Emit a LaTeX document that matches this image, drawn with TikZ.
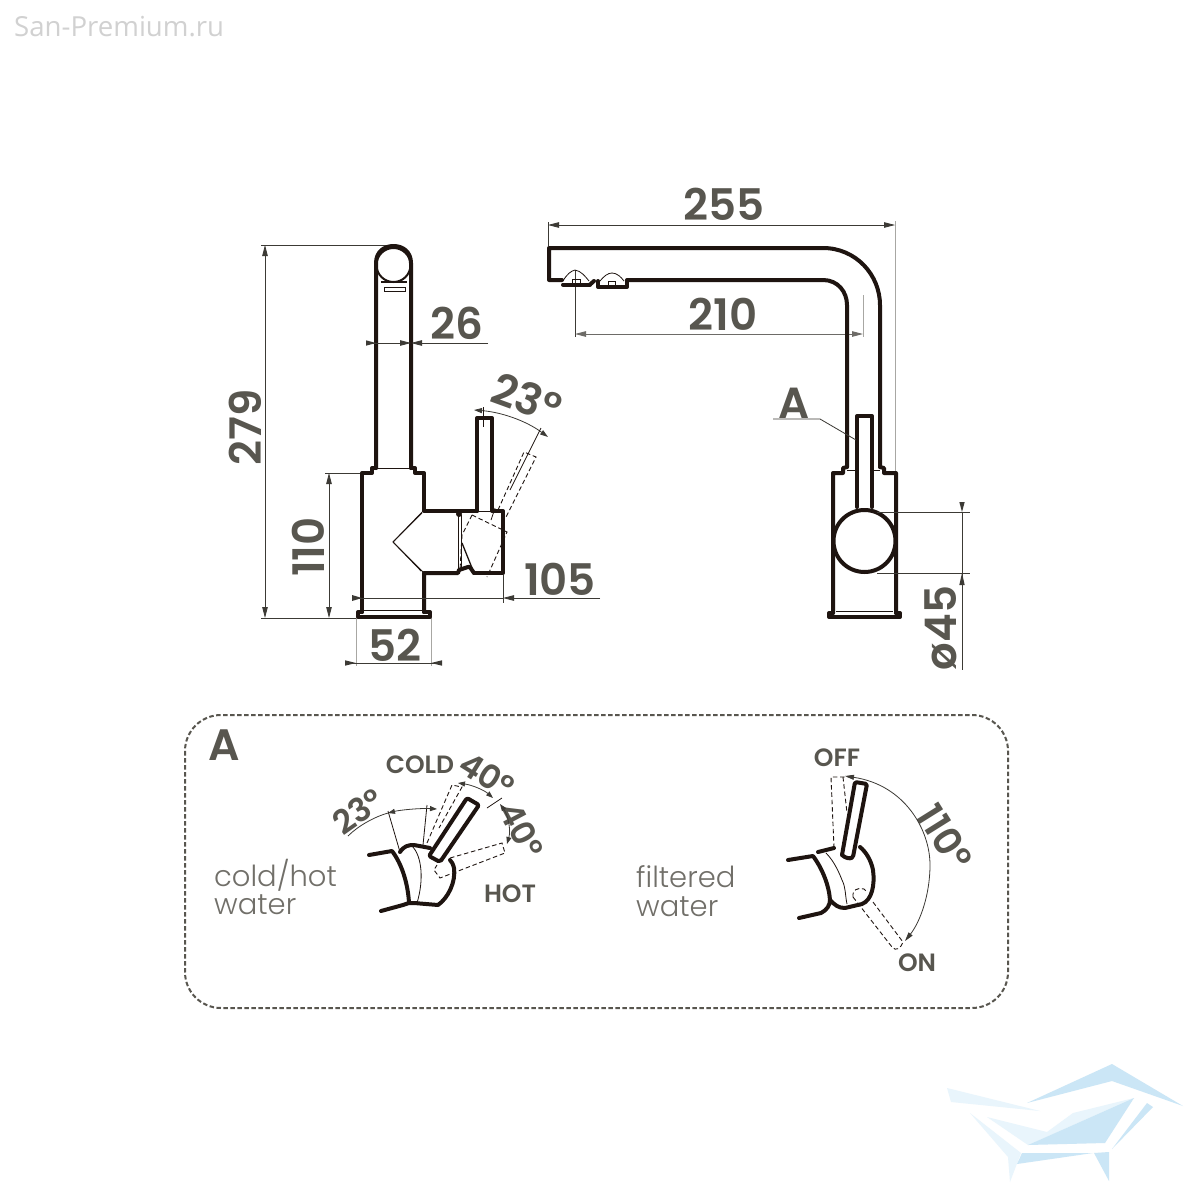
\documentclass[tikz,border=0pt]{standalone}
\usepackage{fontspec}
\setmainfont{Poppins}
\newfontfamily\lightf{Poppins Light}
\newfontfamily\numf{Poppins SemiBold}
\newfontfamily\wmf{Open Sans}
\usetikzlibrary{arrows.meta}
\definecolor{ink}{HTML}{1E1410}
\definecolor{txt}{HTML}{58564F}
\definecolor{dimc}{HTML}{3C3A35}
\definecolor{extc}{HTML}{A8A7A3}
\definecolor{wmA}{HTML}{CBE6F6}
\definecolor{wmB}{HTML}{E9F5FC}
\tikzset{
 thick line/.style={draw=ink,line width=4pt,line join=round,line cap=round},
 mid line/.style={draw=ink,line width=2pt,line join=round},
 thin line/.style={draw=ink,line width=0.8pt},
 dash line/.style={draw=ink,line width=0.9pt,dash pattern=on 4.5pt off 2.8pt},
 dimline/.style={draw=dimc,line width=0.8pt},
 extline/.style={draw=extc,line width=1pt},
 tip/.style={-{Triangle[length=11pt,width=5.5pt]}},
 tipb/.style={{Triangle[length=11pt,width=5.5pt]}-{Triangle[length=11pt,width=5.5pt]}},
 num/.style={text=txt,font=\fontsize{43.5}{43.5}\numf\selectfont,inner sep=0pt},
 small/.style={text=txt,font=\fontsize{25}{25}\numf\selectfont,inner sep=0pt},
 angl/.style={text=txt,font=\fontsize{33}{33}\numf\selectfont,inner sep=0pt},
 desc/.style={text=txt!85,font=\fontsize{29}{29}\lightf\selectfont,inner sep=0pt,anchor=west},
}
\begin{document}
\begin{tikzpicture}[x=1pt,y=-1pt]
\useasboundingbox (0,0) rectangle (1200,1200);
\fill[white] (0,0) rectangle (1200,1200);
\node[anchor=west,inner sep=0pt,text=black!18,font=\fontsize{27.6}{27.6}\wmf\selectfont] (wm) at (14,27) {San-Premium.ru};
% watermark
\fill[wmB] (947,1088) -- (1040,1111) -- (951,1102) -- cycle;
\fill[wmB] (987,1117) -- (1047,1132) -- (1073,1113) -- (1134,1098) -- (1028,1145) -- cycle;
\fill[wmB] (970,1113) -- (1021,1153) -- (1010,1182) -- (1008,1157) -- cycle;
\fill[wmA] (1027,1103) -- (1112,1064) -- (1183,1106) -- (1112,1081) -- cycle;
\fill[wmA] (1028,1145) -- (1134,1098) -- (1105,1143) -- cycle;
\fill[wmA] (1147,1103) -- (1153,1107) -- (1112,1149) -- cycle;
\fill[wmA] (1022,1153) -- (1093,1153) -- (1017,1164) -- cycle;
\fill[wmA] (1094,1153) -- (1109,1152) -- (1109,1181) -- cycle;
%% LEFT VIEW
% extension lines
\draw[dimline] (261,245) -- (395,245);
\draw[dimline] (261,618) -- (357,618);
\draw[dimline] (325,473) -- (362,473);
\draw[extline] (356,618) -- (356,666);
\draw[extline] (431,618) -- (431,666);
\draw[dimline] (503,575) -- (503,603);
% spout
\draw[thick line] (376,468) -- (376,263) .. controls (376,252) and (384,246) .. (393.5,246) .. controls (403,246) and (411,252) .. (411,263) -- (411,468);
\draw[mid line] (393.5,265) circle (17);
\draw[mid line] (381,282) -- (407,282);
\draw[draw=ink,line width=1pt] (384,287) rectangle (405,291);
\draw[thick line] (376,468) -- (372,468) -- (372,473) -- (362,473) -- (362,612);
\draw[thick line] (411,468) -- (415,468) -- (415,473) -- (424,473) -- (424,511) -- (477,511);
\draw[thick line] (477,511) -- (477,418) -- (492,418) -- (492,511) -- (503,511) -- (503,573) -- (474,573);
\draw[thick line] (474,573) .. controls (471,569) and (470,566) .. (468,567) -- (459,570) -- (458,573) -- (424,573) -- (424,612);
\draw[thick line] (358,612) -- (358,617) -- (430,617) -- (430,612) (358,612) -- (362,612) (424,612) -- (430,612);
\draw[thin line] (364,610) -- (422,610);
\draw[thin line] (376,468) -- (411,468);
\draw[thin line] (477,511.5) -- (492,511.5);
\fill[ink] (459,514) circle (3);
\draw[thin line] (458,515) -- (458,570);
\draw[thin line] (461,515) -- (461,570);
\draw[thin line] (393,542) -- (424,510) (393,542) -- (424,573);
\draw[thin line] (393,542) -- (422,513) (393,542) -- (421,571);
\draw[draw=ink,line width=1.3pt] (462,543) -- (474,573);
% dashed position
\draw[dash line] (498,510) -- (524,452) -- (536,457) -- (506,517);
\draw[dash line] (472,515) -- (507,532) -- (487,577);
\draw[dash line] (472,515) -- (462,535) -- (460,570);
% 23 deg
\draw[dimline,{Triangle[length=8pt,width=5pt]}-{Triangle[length=8pt,width=5pt]}] (474,410) .. controls (500,412) and (525,420) .. (548,437);
\draw[thin line] (483,407) -- (483,427);
\draw[thin line] (541,428) -- (510,490);
\draw[thin line] (495,508) -- (491,520);
% dimensions
\draw[dimline,tipb] (265,245) -- (265,618);
\draw[dimline,tipb] (329,473) -- (329,618);
\draw[dimline,tip] (488,343) -- (411,343);
\draw[dimline,-{Triangle[length=11pt,width=5.5pt]}] (367,343) -- (411,343);
\draw[dimline,tip] (600,598) -- (503,598);
\draw[dimline] (503,598) -- (352,598);
\fill[dimc] (362,598) -- (352,595) -- (352,601) -- cycle;
\draw[dimline] (346,663) -- (441,663);
\fill[dimc] (356,663) -- (345,660.3) -- (345,665.7) -- cycle;
\fill[dimc] (431,663) -- (442,660.3) -- (442,665.7) -- cycle;
\fill[dimc] (376,343) -- (366,340.3) -- (366,345.7) -- cycle;
\node[num,rotate=90] (n279) at (245,427) {279};
\node[num,rotate=90] (n110) at (308,547) {110};
\node[num] (n26) at (457,323) {26};
\node[num] (n105) at (560,579) {105};
\node[num] (n52) at (395,645) {52};
\node[num,rotate=-20] (n23) at (527,398) {23°};
%% RIGHT VIEW
\draw[dimline,tipb] (548,225) -- (895,225);
\draw[dimline] (548,222) -- (548,246);
\draw[extline] (895,221) -- (895,473);
\draw[dimline] (575,270) -- (575,337);
\draw[extline] (863,295) -- (863,337);
\draw[draw=dimc!75,line width=0.9pt,tipb] (575,334) -- (863,334);
\draw[thick line] (562,280) -- (549,280) -- (549,248) -- (823,248) .. controls (856,248) and (880,275) .. (880,305) -- (880,467);
\draw[thick line] (627,280) -- (823,280) .. controls (838,280) and (847,292) .. (847,305) -- (847,467);
\draw[thick line] (847,467) -- (843,468) -- (843,473) -- (833,473) -- (833,613);
\draw[thick line] (880,467) -- (884,468) -- (884,473) -- (896,473) -- (896,613);
\draw[thick line] (829,613) -- (829,617) -- (900,617) -- (900,613) (829,613) -- (833,613) (896,613) -- (900,613);
\draw[thin line] (836,611) -- (893,611);
\draw[thin line] (847,470) -- (857,470) (872,470) -- (880,470);
\fill[white] (858.5,417) rectangle (870.5,506);
\draw[thick line] (857,507) -- (857,416) -- (872,416) -- (872,507);
\draw[thick line,fill=white] (864.5,541) circle (31);
% nozzles
\draw[thick line] (563,284.5) -- (590,284.5);
\draw[thick line] (590,284.5) -- (594,281);
\draw[thick line] (598,281) -- (598,287) -- (627,287) -- (627,281);
\draw[thin line] (563,281) .. controls (567,274) and (571,271) .. (575,270) .. controls (581,271) and (585,276) .. (589,281);
\draw[thin line] (600,281) .. controls (604,276) and (608,273) .. (612,273) .. controls (617,273) and (621,277) .. (624,281);
\draw[draw=ink,line width=0.8pt] (572,279) rectangle (580,283);
\draw[draw=ink,line width=0.8pt] (608,281) rectangle (615,285);
% dims right
\node[num] (n255) at (724,204) {255};
\node[num] (n210) at (723,314) {210};
\node[num] (nA) at (794,403) {A};
\draw[dimline] (773,419) -- (820,419) -- (856,440);
\draw[dimline] (877,512) -- (970,512);
\draw[dimline] (877,573) -- (970,573);
\draw[dimline] (962,512) -- (962,670);
\fill[dimc] (962,512) -- (959.3,502) -- (964.7,502) -- cycle;
\fill[dimc] (962,573) -- (959.3,585) -- (964.7,585) -- cycle;
\node[num,rotate=90] (n45) at (941,628) {ø45};
%% PANEL
\draw[draw=txt,line width=2pt,dash pattern=on 4.5pt off 2.5pt,rounded corners=36pt] (185,715) rectangle (1008,1008);
\node[num,font=\fontsize{44}{44}\numf\selectfont] (pA) at (224,745) {A};
\node[desc] (d1a) at (214,875) {cold/hot};
\node[desc] (d1b) at (214,905) {water};
\node[desc] (d2a) at (636,877) {filtered};
\node[desc] (d2b) at (636,907) {water};
\node[small] (cold) at (420,765) {COLD};
\node[small] (hot) at (510,894) {HOT};
\node[small] (off) at (837,758) {OFF};
\node[small] (on) at (917,963) {ON};
\node[angl,rotate=35] (a23) at (358,811) {23°};
\node[angl,rotate=-32] (a40a) at (487,775) {40°};
\node[angl,rotate=-62] (a40b) at (522,830) {40°};
\node[angl,rotate=-58,font=\fontsize{38}{38}\numf\selectfont] (a110) at (945,837) {110°};
% detail left
\draw[thick line] (369,855) -- (392,851) .. controls (402,864) and (408,884) .. (409,903);
\draw[thick line] (381,911) -- (403,905) -- (409,903) .. controls (411,903) and (412,903) .. (414,903) -- (438,905) .. controls (448,898) and (456,882) .. (454,868) .. controls (453,864) and (452,862) .. (450,860);
\draw[thick line] (400,852) .. controls (404,846) and (408,845) .. (414,845) -- (430,848);
\draw[thin line] (412,846) .. controls (422,856) and (424,880) .. (417,903);
\draw[thick line,rounded corners=2pt] (429,856) -- (467,798) -- (479,805) -- (440,862) -- cycle;
\draw[dash line] (427,843) -- (452,785) -- (462,787) -- (439,828);
\draw[dash line] (450,858) -- (502,843) -- (505,853) -- (440,878) -- (434,870) -- (437,865);
\draw[thin line] (388,811) -- (400,852);
\draw[thin line] (427,805) -- (423,845);
\draw[dimline,{Triangle[length=7pt,width=5pt]}-{Triangle[length=7pt,width=5pt]}] (437,809) .. controls (420,808) and (400,810) .. (388,813);
\draw[dimline] (388,813) .. controls (374,817) and (358,826) .. (348,836);
\draw[dimline,{Triangle[length=7pt,width=5pt]}-{Triangle[length=7pt,width=5pt]}] (458,783) .. controls (472,785) and (484,790) .. (493,798);
\draw[dimline,{Triangle[length=7pt,width=5pt]}-{Triangle[length=7pt,width=5pt]}] (500,804) .. controls (508,815) and (511,830) .. (507,844);
\draw[thin line] (487,808) -- (502,798);
% detail right
\draw[thick line] (788,860) -- (813,856) .. controls (822,868) and (829,885) .. (830,900);
\draw[thick line] (799,918) -- (821,913) .. controls (827,910) and (830,905) .. (830,900) .. controls (835,905) and (838,908) .. (845,908) -- (862,904) .. controls (872,900) and (875,885) .. (873,870) .. controls (871,860) and (866,852) .. (860,847);
\draw[thick line] (818,852) -- (834,848);
\draw[thin line] (826,853) .. controls (835,862) and (840,875) .. (842,880) .. controls (846,888) and (845,895) .. (847,904);
\draw[thick line,rounded corners=1.5pt] (842,855) -- (855,782) -- (867,784) -- (853,857) .. controls (850,859) and (845,858) .. (842,855);
\draw[dash line] (834,848) -- (831,777) -- (852,777);
\draw[dash line] (843,777) -- (847,813);
\draw[dash line] (853,897) -- (892,947) .. controls (896,952) and (901,948) .. (903,942) -- (873,902);
\draw[dash line] (853,897) .. controls (852,890) and (858,887) .. (864,889) -- (867,892);
\draw[dimline,{Triangle[length=9pt,width=5pt]}-{Triangle[length=9pt,width=5pt]}] (845,776) .. controls (905,785) and (930,830) .. (930,865) .. controls (930,895) and (920,922) .. (905,941);
\end{tikzpicture}
\end{document}
